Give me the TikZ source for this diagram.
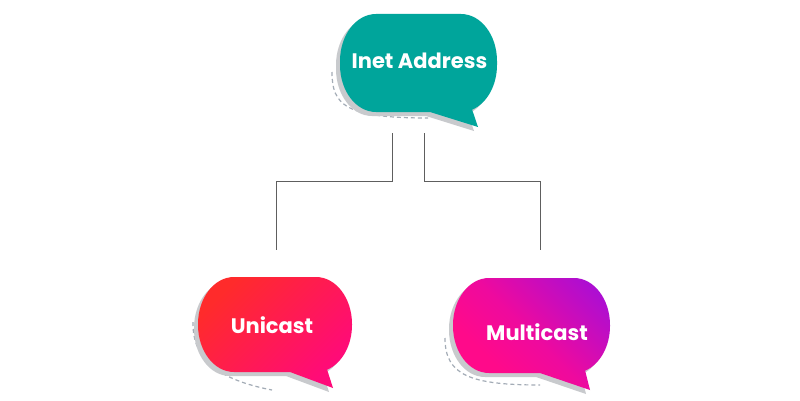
\documentclass[tikz,border=0pt]{standalone}
\usepackage{fontspec}
\newfontfamily\pop{Poppins}
\definecolor{tealb}{HTML}{00A59B}
\definecolor{uniA}{HTML}{FF2B2B}
\definecolor{uniM}{HTML}{FF1852}
\definecolor{uniB}{HTML}{FF0A7A}
\definecolor{mulA}{HTML}{A50FD8}
\definecolor{mulM}{HTML}{EE0A9E}
\definecolor{mulB}{HTML}{FF0A8A}
\definecolor{shadowg}{HTML}{C8CACD}
\definecolor{dashg}{HTML}{A3ACB6}
\definecolor{linkg}{HTML}{5E5E5E}
\pgfdeclareverticalshading{mulshade}{100bp}{color(0bp)=(mulB); color(32bp)=(mulB); color(50bp)=(mulM); color(82bp)=(mulA); color(100bp)=(mulA)}
\newcommand{\bubblepath}[7]{%
 ({#5},{#3}) -- ({#6},{#7}) -- ({#2-36+36*cos(-72)},{#3+47+47*sin(-72)})
 arc[start angle=-72,end angle=0,x radius=36pt,y radius=47pt] -- ({#2},{#4-47})
 arc[start angle=0,end angle=90,x radius=36pt,y radius=47pt] -- ({#1+36},{#4})
 arc[start angle=90,end angle=180,x radius=36pt,y radius=47pt] -- ({#1},{#3+47})
 arc[start angle=180,end angle=270,x radius=36pt,y radius=47pt] -- cycle}
\tikzset{
  label/.style={text=white, font=\pop\bfseries\fontsize{21}{25}\selectfont, anchor=base, inner sep=0pt},
  shadowbub/.style={fill=shadowg, shift={(-4,-4)}},
  dashcurve/.style={draw=dashg, line width=1.2pt, dash pattern=on 4pt off 3pt},
  link/.style={draw=linkg, line width=0.9pt}
}
\begin{document}
\begin{tikzpicture}[x=1pt,y=1pt]
\fill[white] (0,0) rectangle (800,400);
\useasboundingbox (0,0) rectangle (800,400);
% Inet Address
\draw[dashcurve] (332,328) .. controls (332,295) and (345,282) .. (428,282);
\fill[shadowbub] \bubblepath{340}{497}{288}{386}{430}{478}{273};
\fill[tealb] \bubblepath{340}{497}{288}{386}{430}{478}{273};
\node[label] (inet) at (419.5,332) {Inet Address};
% Unicast
\draw[dashcurve] (193,78) .. controls (192,40) and (220,20) .. (272,10);
\fill[shadowbub] \bubblepath{198}{352}{28}{123}{290}{333}{12};
\shade[top color=uniA, middle color=uniM, bottom color=uniB, shading angle=45] \bubblepath{198}{352}{28}{123}{290}{333}{12};
\node[label] (uni) at (272,67) {Unicast};
% Multicast
\draw[dashcurve] (445,62) .. controls (445,25) and (470,15) .. (540,15);
\fill[shadowbub] \bubblepath{453}{610}{27}{122}{540}{590}{10};
\shade[shading=mulshade, shading angle=-45] \bubblepath{453}{610}{27}{122}{540}{590}{10};
\node[label] (multi) at (537,60) {Multicast};
% connectors
\coordinate (a1) at (392,267);
\coordinate (b1) at (276,150);
\coordinate (a2) at (424,267);
\coordinate (b2) at (540,150);
\draw[link] (a1) -- (392,219) -| (b1);
\draw[link] (a2) -- (424,219) -| (b2);
\end{tikzpicture}
\end{document}
